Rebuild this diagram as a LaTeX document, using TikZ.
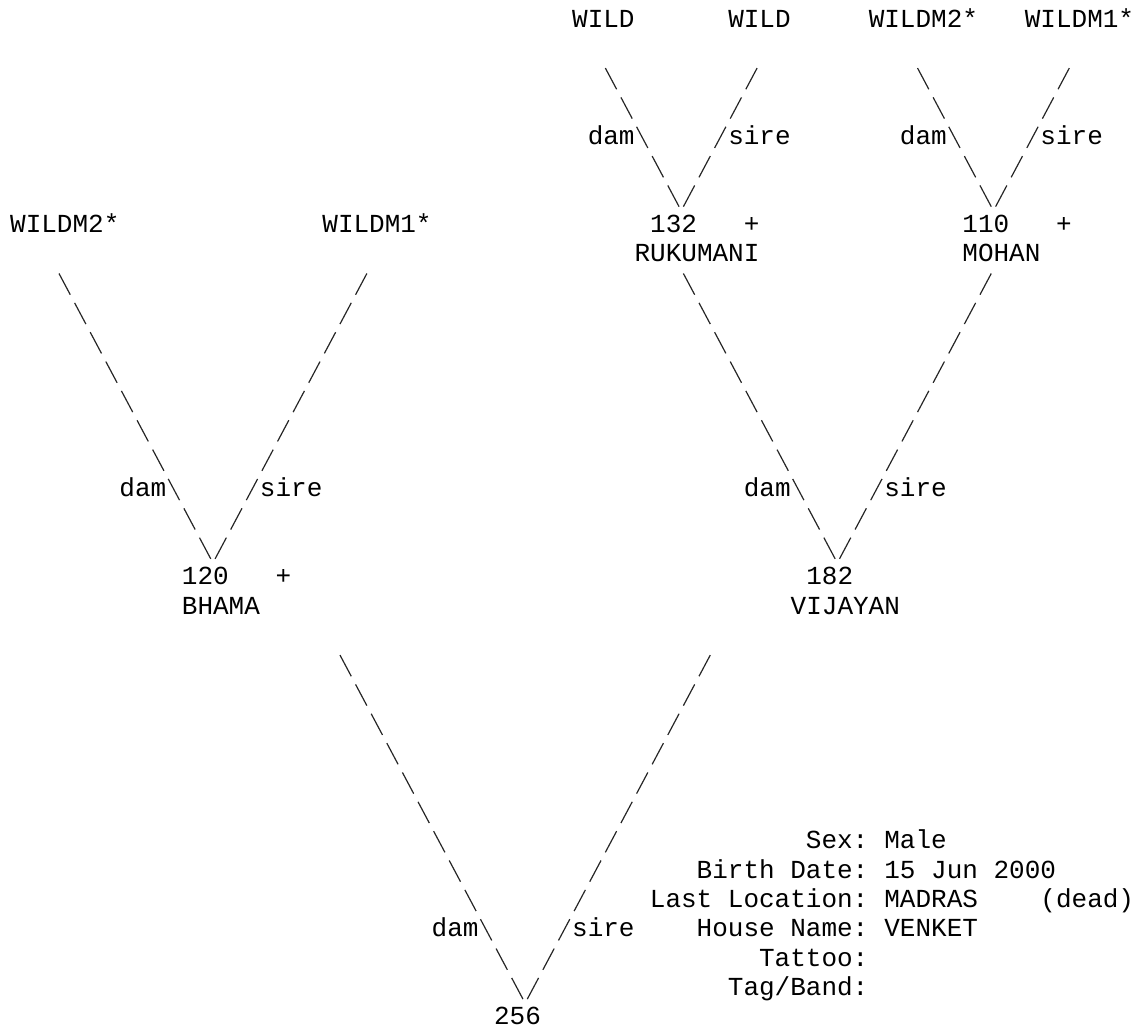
\documentclass[tikz,border=0pt]{standalone}
\usepackage{fontspec}
\setmonofont{Liberation Mono}
\tikzset{
  pedtext/.style={anchor=base west, inner sep=0pt, font=\ttfamily\fontsize{26}{29}\selectfont},
  pedlabel/.style={pedtext, anchor=base east},
  lineage/.style={draw=black!85, line width=1.2pt, dash pattern=on 24pt off 9.243pt,
    shorten <=-12pt, shorten >=-12pt}
}
\begin{document}
\begin{tikzpicture}[x=15.61pt, y=-29.35pt]
  \useasboundingbox (-0.6406,0) rectangle (72.262,35.094);
  % great-grandparents
  \node[pedtext] (rukdam) at (36,0.92) {WILD};
  \node[pedtext] (ruksire) at (46,0.92) {WILD};
  \node[pedtext] (mohdam) at (55,0.92) {WILDM2*};
  \node[pedtext] (mohsire) at (65,0.92) {WILDM1*};
  \node[pedtext] (ruk-dl) at (37,4.92) {dam};
  \node[pedtext] (ruk-sl) at (46,4.92) {sire};
  \node[pedtext] (moh-dl) at (57,4.92) {dam};
  \node[pedtext] (moh-sl) at (66,4.92) {sire};
  % grandparents
  \node[pedtext] (bhadam) at (0,7.92) {WILDM2*};
  \node[pedtext] (bhasire) at (20,7.92) {WILDM1*};
  \node[pedtext] (ruknum) at (41,7.92) {132};
  \node[pedtext] (rukplus) at (47,7.92) {+};
  \node[pedtext] (rukname) at (40,8.92) {RUKUMANI};
  \node[pedtext] (mohnum) at (61,7.92) {110};
  \node[pedtext] (mohplus) at (67,7.92) {+};
  \node[pedtext] (mohname) at (61,8.92) {MOHAN};
  \node[pedtext] (bha-dl) at (7,16.92) {dam};
  \node[pedtext] (bha-sl) at (16,16.92) {sire};
  \node[pedtext] (vij-dl) at (47,16.92) {dam};
  \node[pedtext] (vij-sl) at (56,16.92) {sire};
  % parents
  \node[pedtext] (bhanum) at (11,19.92) {120};
  \node[pedtext] (bhaplus) at (17,19.92) {+};
  \node[pedtext] (bhaname) at (11,20.92) {BHAMA};
  \node[pedtext] (vijnum) at (51,19.92) {182};
  \node[pedtext] (vijname) at (50,20.92) {VIJAYAN};
  \node[pedtext] (root-dl) at (27,31.92) {dam};
  \node[pedtext] (root-sl) at (36,31.92) {sire};
  \node[pedtext] (rootnum) at (31,34.92) {256};
  % animal record
  \node[pedlabel] (sexl) at (55,28.92) {Sex:};
  \node[pedtext] (sexv) at (56,28.92) {Male};
  \node[pedlabel] (birthl) at (55,29.92) {Birth Date:};
  \node[pedtext] (birthv) at (56,29.92) {15 Jun 2000};
  \node[pedlabel] (locl) at (55,30.92) {Last Location:};
  \node[pedtext] (locv) at (56,30.92) {MADRAS};
  \node[pedtext] (locst) at (66,30.92) {(dead)};
  \node[pedlabel] (housel) at (55,31.92) {House Name:};
  \node[pedtext] (housev) at (56,31.92) {VENKET};
  \node[pedlabel] (tattool) at (55,32.92) {Tattoo:};
  \node[pedlabel] (tagl) at (55,33.92) {Tag/Band:};
  % line ends
  \coordinate (ruk-d1) at (38.5,2.68);  \coordinate (ruk-d2) at (42.5,6.68);
  \coordinate (ruk-s1) at (47.5,2.68);  \coordinate (ruk-s2) at (43.5,6.68);
  \coordinate (moh-d1) at (58.5,2.68);  \coordinate (moh-d2) at (62.5,6.68);
  \coordinate (moh-s1) at (67.5,2.68);  \coordinate (moh-s2) at (63.5,6.68);
  \coordinate (bha-d1) at (3.5,9.68);   \coordinate (bha-d2) at (12.5,18.68);
  \coordinate (bha-s1) at (22.5,9.68);  \coordinate (bha-s2) at (13.5,18.68);
  \coordinate (vij-d1) at (43.5,9.68);  \coordinate (vij-d2) at (52.5,18.68);
  \coordinate (vij-s1) at (62.5,9.68);  \coordinate (vij-s2) at (53.5,18.68);
  \coordinate (root-d1) at (21.5,22.68); \coordinate (root-d2) at (32.5,33.68);
  \coordinate (root-s1) at (44.5,22.68); \coordinate (root-s2) at (33.5,33.68);
  % dam and sire lines
  \draw[lineage] (ruk-d1) -- (ruk-d2);
  \draw[lineage] (ruk-s1) -- (ruk-s2);
  \draw[lineage] (moh-d1) -- (moh-d2);
  \draw[lineage] (moh-s1) -- (moh-s2);
  \draw[lineage] (bha-d1) -- (bha-d2);
  \draw[lineage] (bha-s1) -- (bha-s2);
  \draw[lineage] (vij-d1) -- (vij-d2);
  \draw[lineage] (vij-s1) -- (vij-s2);
  \draw[lineage] (root-d1) -- (root-d2);
  \draw[lineage] (root-s1) -- (root-s2);
\end{tikzpicture}
\end{document}
